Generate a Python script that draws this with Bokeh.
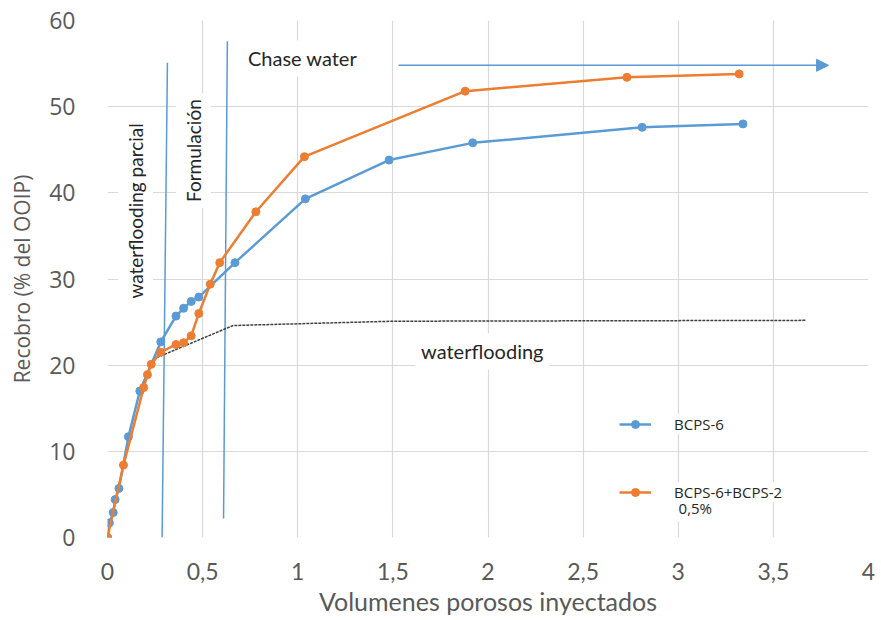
from bokeh.plotting import figure
from bokeh.models import (FixedTicker, Legend, LegendItem, Label, Arrow,
                          NormalHead, Range1d)
from bokeh.embed import file_html
from bokeh.resources import INLINE

# Injected pore volumes vs. oil recovery (% OOIP)
pv_bcps6 = [0.0, 0.01, 0.03, 0.04, 0.06, 0.11, 0.17, 0.28, 0.36, 0.40,
            0.44, 0.48, 0.67, 1.04, 1.48, 1.92, 2.81, 3.34]
rec_bcps6 = [0.0, 1.7, 2.9, 4.4, 5.7, 11.7, 17.0, 22.7, 25.7, 26.6,
             27.4, 27.9, 31.9, 39.3, 43.8, 45.8, 47.6, 48.0]

pv_mix = [0.0, 0.084, 0.19, 0.21, 0.23, 0.28, 0.36, 0.40, 0.44, 0.48,
          0.54, 0.59, 0.78, 1.035, 1.88, 2.73, 3.32]
rec_mix = [0.0, 8.4, 17.4, 18.9, 20.1, 21.5, 22.4, 22.6, 23.4, 26.0,
           29.4, 31.9, 37.8, 44.2, 51.8, 53.4, 53.8]

# Waterflooding-only reference curve
pv_wf = [0.24, 0.66, 1.5, 3.67]
rec_wf = [20.7, 24.6, 25.1, 25.2]

# Stage boundaries (partial waterflooding | formulation | chase water)
stage_x0 = [0.287, 0.61]
stage_y0 = [0.0, 2.2]
stage_x1 = [0.315, 0.63]
stage_y1 = [55.1, 57.6]

x_ticks = [0, 0.5, 1, 1.5, 2, 2.5, 3, 3.5, 4]
x_tick_labels = ["0", "0,5", "1", "1,5", "2", "2,5", "3", "3,5", "4"]
y_ticks = [0, 10, 20, 30, 40, 50, 60]

BLUE = "#5B9BD5"
ORANGE = "#ED7D31"
GRID = "#D9D9D9"
AXIS_TXT = "#595959"
NOTE_TXT = "#262626"

p = figure(frame_width=761, frame_height=517,
           x_range=Range1d(0, 4), y_range=Range1d(0, 60),
           output_backend="svg", toolbar_location=None,
           min_border_left=107, min_border_right=13,
           min_border_top=20, min_border_bottom=83)
p.outline_line_color = None
p.background_fill_color = "white"
p.border_fill_color = "white"

p.xaxis.ticker = FixedTicker(ticks=x_ticks)
p.yaxis.ticker = FixedTicker(ticks=y_ticks)
p.xaxis.major_label_overrides = {t: l for t, l in zip(x_ticks, x_tick_labels)}
for ax in (p.xaxis, p.yaxis):
    ax.axis_line_color = None
    ax.major_tick_line_color = None
    ax.minor_tick_line_color = None
    ax.major_label_text_color = AXIS_TXT
    ax.axis_label_text_color = AXIS_TXT
    ax.axis_label_text_font_style = "normal"

p.xaxis.major_label_text_font = "Lato"
p.xaxis.major_label_text_font_size = "23px"
p.xaxis.major_label_standoff = 19
p.xaxis.axis_label = "Volumenes porosos inyectados"
p.xaxis.axis_label_text_font = "Lato"
p.xaxis.axis_label_text_font_size = "25px"
p.xaxis.axis_label_standoff = 3

p.yaxis.major_label_text_font = "Open Sans"
p.yaxis.major_label_text_font_size = "23px"
p.yaxis.major_label_standoff = 26
p.yaxis.axis_label = "Recobro (% del OOIP)"
p.yaxis.axis_label_text_font = "Open Sans"
p.yaxis.axis_label_text_font_size = "21px"
p.yaxis.axis_label_standoff = 10

p.xgrid.ticker = FixedTicker(ticks=x_ticks)
p.ygrid.ticker = FixedTicker(ticks=y_ticks)
p.grid.grid_line_color = GRID
p.grid.grid_line_width = 1.2

# stage boundaries and chase-water arrow
p.segment(x0=stage_x0, y0=stage_y0, x1=stage_x1, y1=stage_y1,
          line_color=BLUE, line_width=1.5)
p.add_layout(Arrow(end=NormalHead(size=12, fill_color=BLUE, line_color=BLUE),
                   x_start=1.53, y_start=54.8, x_end=3.79, y_end=54.8,
                   line_color=BLUE, line_width=1.5))

# waterflooding baseline
p.line(pv_wf, rec_wf, line_color="#404040", line_width=1.5, line_dash="3 1")

# recovery curves
bl = p.line(pv_bcps6, rec_bcps6, line_color=BLUE, line_width=2.5)
bs = p.scatter(pv_bcps6, rec_bcps6, size=8, color=BLUE)
ol = p.line(pv_mix, rec_mix, line_color=ORANGE, line_width=2.5)
os_ = p.scatter(pv_mix, rec_mix, size=8, color=ORANGE)


def note(text, x, y, size, angle=0.0):
    p.add_layout(Label(x=x, y=y, text=text, angle=angle,
                       text_align="center", text_baseline="middle",
                       text_font="Lato", text_font_size=size,
                       text_color=NOTE_TXT,
                       background_fill_color="white",
                       background_fill_alpha=1.0, padding=6))


note("Chase water", 1.025, 55.6, "20px")
note("waterflooding", 1.97, 21.6, "20px")
note("waterflooding parcial", 0.147, 37.9, "19px", angle=1.5708)
note("Formulación", 0.452, 44.9, "19px", angle=1.5708)

leg_common = dict(glyph_width=32, glyph_height=20, label_standoff=23,
                  padding=6, margin=0, spacing=0,
                  label_text_font="Open Sans", label_text_font_size="15px",
                  label_text_color=NOTE_TXT, label_height=20,
                  border_line_color=None, background_fill_color="white",
                  background_fill_alpha=1.0)
leg1 = Legend(items=[LegendItem(label="BCPS-6", renderers=[bl, bs])],
              location=(512, 103), **leg_common)
leg2 = Legend(items=[LegendItem(label="BCPS-6+BCPS-2", renderers=[ol, os_])],
              location=(512, 35), **leg_common)
p.add_layout(leg1)
p.add_layout(leg2)
p.add_layout(Label(x=2.986, y=3.4, text="0,5%", text_align="left",
                   text_baseline="middle", text_font="Open Sans",
                   text_font_size="15px", text_color=NOTE_TXT,
                   background_fill_color="white", background_fill_alpha=1.0,
                   padding=3))

open("out.html", "w").write(file_html(p, INLINE))
